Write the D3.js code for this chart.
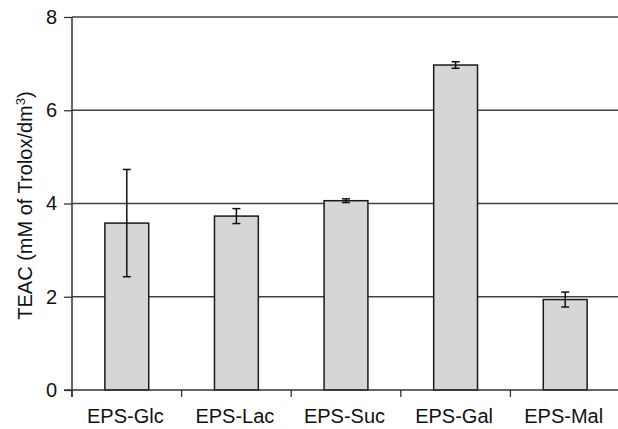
<!DOCTYPE html>
<html>
<head>
<meta charset="utf-8">
<script src="https://cdn.jsdelivr.net/npm/d3@7"></script>
<style>
  body { margin: 0; background: #ffffff; overflow: hidden; }
  svg { display: block; font-family: Arial, "Liberation Sans", sans-serif; }
</style>
</head>
<body>
<div id="chart"></div>
<script>
// Data
var categories = ['EPS-Glc', 'EPS-Lac', 'EPS-Suc', 'EPS-Gal', 'EPS-Mal'];
var values = [3.58, 3.73, 4.06, 6.97, 1.94];
var errors = [1.15, 0.16, 0.04, 0.07, 0.16];
var yTicks = [0, 2, 4, 6, 8];

var width = 618, height = 429;
var plotLeft = 72, plotRight = 620, plotTop = 17, plotBottom = 390;

var svg = d3.select('#chart').append('svg')
    .attr('width', width).attr('height', height);

var x = d3.scaleBand().domain(categories).range([plotLeft, plotRight]).paddingInner(0.6).paddingOuter(0.3);
var xb = d3.scaleBand().domain(categories).range([plotLeft, plotRight]); // category slots for ticks
var y = d3.scaleLinear().domain([0, 8]).range([plotBottom, plotTop]);

// Grid lines
svg.append('g').selectAll('line')
    .data(yTicks.filter(function(d) { return d > 0; }))
    .enter().append('line')
    .attr('x1', plotLeft).attr('x2', width)
    .attr('y1', function(d) { return y(d); }).attr('y2', function(d) { return y(d); })
    .style('stroke', '#404040').style('stroke-width', 1.3);

// Bars
svg.append('g').selectAll('rect')
    .data(categories)
    .enter().append('rect')
    .attr('x', function(d) { return x(d); })
    .attr('width', x.bandwidth())
    .attr('y', function(d, i) { return y(values[i]); })
    .attr('height', function(d, i) { return y(0) - y(values[i]); })
    .attr('fill', '#d6d6d6')
    .attr('stroke', '#1a1a1a')
    .attr('stroke-width', 1.5);

// Error bars
var eb = svg.append('g').selectAll('g')
    .data(categories)
    .enter().append('g')
    .attr('transform', function(d) { return 'translate(' + (x(d) + x.bandwidth() / 2) + ',0)'; });

eb.append('line')
    .attr('y1', function(d, i) { return y(values[i] + errors[i]); })
    .attr('y2', function(d, i) { return y(values[i] - errors[i]); })
    .style('stroke', '#111').style('stroke-width', 1.5);
eb.append('line')
    .attr('x1', -4).attr('x2', 4)
    .attr('y1', function(d, i) { return y(values[i] + errors[i]); })
    .attr('y2', function(d, i) { return y(values[i] + errors[i]); })
    .style('stroke', '#111').style('stroke-width', 1.5);
eb.append('line')
    .attr('x1', -4).attr('x2', 4)
    .attr('y1', function(d, i) { return y(values[i] - errors[i]); })
    .attr('y2', function(d, i) { return y(values[i] - errors[i]); })
    .style('stroke', '#111').style('stroke-width', 1.5);

// Y axis
var yAxis = svg.append('g')
    .attr('transform', 'translate(' + plotLeft + ',0)')
    .call(d3.axisLeft(y).tickValues(yTicks).tickSize(8).tickPadding(7).tickFormat(d3.format('d')));
yAxis.select('.domain').attr('d', 'M0,' + plotTop + 'V' + (plotBottom + 7)).style('stroke', '#333').style('stroke-width', 1.5);
yAxis.selectAll('.tick line').style('stroke', '#333').style('stroke-width', 1.3);
yAxis.selectAll('.tick text').style('font-size', '20px').style('fill', '#111')
    .style('font-family', 'Arial, "Liberation Sans", sans-serif');

// X axis (baseline + category separator ticks)
var xg = svg.append('g');
xg.append('line')
    .attr('x1', plotLeft - 8).attr('x2', width)
    .attr('y1', plotBottom).attr('y2', plotBottom)
    .style('stroke', '#333').style('stroke-width', 1.5);
xg.selectAll('line.sep')
    .data(categories)
    .enter().append('line')
    .attr('class', 'sep')
    .attr('x1', function(d) { return xb(d); }).attr('x2', function(d) { return xb(d); })
    .attr('y1', plotBottom).attr('y2', plotBottom + 7)
    .style('stroke', '#333').style('stroke-width', 1.3);
xg.selectAll('text')
    .data(categories)
    .enter().append('text')
    .attr('x', function(d) { return xb(d) + xb.bandwidth() / 2 - 1.5; })
    .attr('y', 423)
    .attr('text-anchor', 'middle')
    .style('font-size', '20px').style('fill', '#111')
    .text(function(d) { return d; });

// Y label
var yl = svg.append('text')
    .attr('transform', 'translate(32,' + ((plotTop + plotBottom) / 2 + 2) + ') rotate(-90)')
    .attr('text-anchor', 'middle')
    .style('font-size', '20px').style('fill', '#111');
yl.append('tspan').text('TEAC (mM of Trolox/dm');
yl.append('tspan').attr('baseline-shift', 'super').style('font-size', '13px').text('3');
yl.append('tspan').text(')');
</script>
</body>
</html>
